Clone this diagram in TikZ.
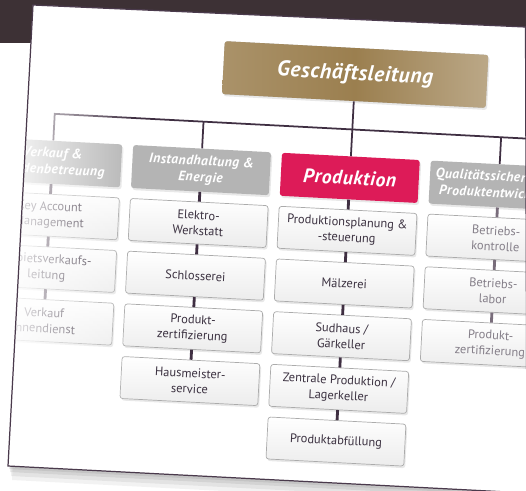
\documentclass[tikz,border=0pt]{standalone}
\usepackage{fontspec}
\setmainfont{PT Sans}
\newfontfamily\headfont[LetterSpace=3]{PT Sans}
\usetikzlibrary{shadows,fadings}
\definecolor{bgdark}{HTML}{3D3135}
\definecolor{edge}{HTML}{4A3A4C}
\definecolor{conn}{HTML}{3F2F42}
\definecolor{gold}{HTML}{9B7F4F}
\definecolor{crimson}{HTML}{DD1B58}
\definecolor{headgray}{HTML}{B4B4B4}
\definecolor{boxline}{HTML}{ABABAB}
\definecolor{boxfill}{HTML}{ECECEC}
\definecolor{boxtext}{HTML}{3B3140}
\tikzfading[name=fadeleft, left color=transparent!10, right color=transparent!100]
\def\cardpath{(33,5) -- (525.5,27) -- (527,493) -- (8,466) -- cycle}
\begin{document}
\begin{tikzpicture}[x=0.02cm, y=-0.02cm,
        every node/.style={transform shape, align=center},
        box/.style={draw=boxline, line width=0.4pt, rounded corners=1.5pt, top color=white, bottom color=boxfill,
          text=boxtext, minimum width=2.76cm, minimum height=0.84cm, inner sep=1pt,
          font=\fontsize{7.1}{8.9}\selectfont,
          drop shadow={shadow xshift=0.8pt, shadow yshift=-1.2pt, opacity=0.18}},
        head/.style={rounded corners=1.5pt, fill=headgray, text=white, minimum width=2.76cm,
          minimum height=0.86cm, inner sep=1pt, font=\headfont\fontsize{7.8}{9.4}\selectfont\bfseries\itshape,
          drop shadow={shadow xshift=0.8pt, shadow yshift=-1.2pt, opacity=0.18}},
        link/.style={draw=conn, line width=1.6pt},
        bar/.style={draw=conn, line width=1pt}]
  \useasboundingbox (0,0) rectangle (526,490);
  \fill[white] (0,0) rectangle (526,490);
  \fill[bgdark] (0,0) rectangle (526,43);
  \fill[black, opacity=0.07, shift={(1,3)}] \cardpath;
  \fill[black, opacity=0.07, shift={(2,6)}] \cardpath;
  \fill[black, opacity=0.06, shift={(3,10)}] \cardpath;
  \fill[black, opacity=0.05, shift={(4,14)}] \cardpath;
  \fill[white] \cardpath;
  \begin{scope}
    \clip \cardpath;
    \begin{scope}[rotate around={-3:(350,250)}]
      \node[head, minimum width=5.28cm, minimum height=1.06cm, left color=gold!85!white, right color=gold!68!white,
        middle color=gold, font=\headfont\fontsize{12.3}{14}\selectfont\bfseries\itshape] (gl) at (346,74.5) {Geschäftsleitung};
      \coordinate (j1) at (48,129.5);
      \coordinate (j2) at (197,129.5);
      \coordinate (j3) at (346,129.5);
      \coordinate (j4) at (495,129.5);
      \coordinate (jend) at (600,129.5);
      \node[head] (verkauf) at (48,178) {Verkauf \&\\Kundenbetreuung};
      \node[head] (instand) at (197,178) {Instandhaltung \&\\Energie};
      \node[head, fill=crimson, font=\headfont\fontsize{11.2}{12}\selectfont\bfseries\itshape] (prod) at (346,178) {Produktion};
      \node[head] (qual) at (495,178) {Qualitätssicherung \&\\Produktentwicklung};
      \node[box] (kam) at (48,231) {Key Account\\Management};
      \node[box] (gvl) at (48,283.75) {Gebietsverkaufs-\\leitung};
      \node[box] (vid) at (48,336.5) {Verkauf\\Innendienst};
      \node[box] (elektro) at (197,231) {Elektro-\\Werkstatt};
      \node[box] (schlosserei) at (197,283.75) {Schlosserei};
      \node[box] (zert) at (197,336.5) {Produkt-\\zertifizierung};
      \node[box] (hausmeister) at (197,389.25) {Hausmeister-\\service};
      \node[box] (planung) at (346,231) {Produktionsplanung \&\\-steuerung};
      \node[box] (maelzerei) at (346,283.75) {Mälzerei};
      \node[box] (sudhaus) at (346,336.5) {Sudhaus /\\Gärkeller};
      \node[box] (zentral) at (346,389.25) {Zentrale Produktion /\\Lagerkeller};
      \node[box] (abfuellung) at (346,442) {Produktabfüllung};
      \node[box, text=boxtext!62!white] (kontrolle) at (495,231) {Betriebs-\\kontrolle};
      \node[box, text=boxtext!62!white] (labor) at (495,283.75) {Betriebs-\\labor};
      \node[box, text=boxtext!62!white] (qzert) at (495,336.5) {Produkt-\\zertifizierung};
      \draw[bar] (gl) -- (j3);
      \draw[bar] (verkauf) -- (j1) -- (jend);
      \draw[bar] (instand) -- (j2);
      \draw[bar] (prod) -- (j3);
      \draw[bar] (qual) -- (j4);
      \draw[link] (verkauf) -- (kam) -- (gvl) -- (vid);
      \draw[link] (instand) -- (elektro) -- (schlosserei) -- (zert) -- (hausmeister);
      \draw[link] (prod) -- (planung) -- (maelzerei) -- (sudhaus) -- (zentral) -- (abfuellung);
      \draw[link, draw=conn!70!white] (qual) -- (kontrolle) -- (labor) -- (qzert);
    \end{scope}
    \fill[white, path fading=fadeleft] (8,0) rectangle (135,490);
  \end{scope}
  \draw[edge, line width=0.7pt] \cardpath;
\end{tikzpicture}
\end{document}
